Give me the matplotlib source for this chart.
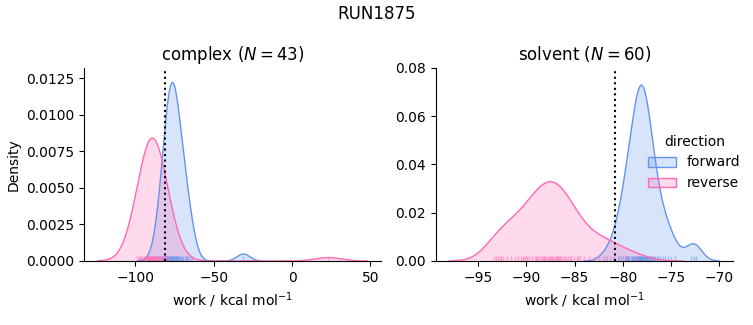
import numpy as np
import matplotlib
matplotlib.use('Agg')
import matplotlib.pyplot as plt
from matplotlib.patches import Patch
import matplotlib.transforms as mtransforms

run_name = 'RUN1875'
phases = ['complex', 'solvent']
directions = ['forward', 'reverse']
colors = {'forward': '#6495ED', 'reverse': '#FF69B4'}

# work values (kcal/mol)
complex_forward = [-86.2, -84.5, -83.1, -82.4, -81.7, -81.0, -80.3, -79.8, -79.2, -78.7,
                   -78.3, -77.9, -77.5, -77.1, -76.8, -76.4, -76.0, -75.6, -75.2, -74.8,
                   -74.3, -73.9, -73.4, -73.0, -72.5, -72.0, -71.4, -70.8, -70.1, -69.4,
                   -68.6, -67.7, -66.5, -65.2, -63.8, -79.5, -78.0, -76.6, -75.0, -74.0,
                   -80.7, -67.2, -31.0]
complex_reverse = [-99.0, -97.5, -96.3, -95.4, -94.6, -93.9, -93.3, -92.7, -92.2, -91.7,
                   -91.2, -90.8, -90.4, -90.0, -89.6, -89.2, -88.8, -88.4, -88.0, -87.6,
                   -87.1, -86.6, -86.1, -85.5, -84.8, -84.0, -83.1, -82.0, -80.5, -78.5,
                   -91.5, -90.2, -89.0, -87.8, -93.0, -82.8, -86.9, -85.0, -92.0, -97.0,
                   -84.4, -81.2, 23.0]
solvent_forward = [-81.6, -80.9, -80.4, -80.0, -79.7, -79.5, -79.3, -79.1, -78.9, -78.8,
                   -78.7, -78.6, -78.5, -78.4, -78.3, -78.2, -78.1, -78.0, -77.9, -77.8,
                   -77.7, -77.6, -77.5, -77.4, -77.3, -77.2, -77.0, -76.8, -76.6, -76.4,
                   -76.1, -75.8, -79.8, -79.0, -78.45, -78.15, -77.85, -77.55, -78.6, -75.6,
                   -77.7, -77.1, -79.4, -78.9, -78.25, -77.95, -76.9, -76.3, -80.2, -79.6,
                   -78.35, -78.05, -77.45, -77.25, -75.3, -75.0, -74.6, -72.9, -72.6, -72.4]
solvent_reverse = [-93.4, -93.0, -92.7, -92.4, -92.0, -91.6, -91.2, -90.9, -90.6, -90.3,
                   -90.0, -89.7, -89.4, -89.1, -88.8, -88.6, -88.4, -88.2, -88.0, -87.8,
                   -87.6, -87.4, -87.2, -87.0, -86.8, -86.6, -86.4, -86.2, -86.0, -85.7,
                   -85.4, -85.1, -84.8, -84.4, -84.0, -83.5, -83.0, -82.5, -82.0, -81.3,
                   -80.5, -79.6, -78.4, -89.9, -89.0, -88.3, -87.7, -87.3, -86.9, -86.5,
                   -88.9, -93.2, -86.7, -85.9, -90.4, -88.1, -81.8, -85.5, -92.6, -84.6]

# free energy estimate (dotted line)
complex_dg = -80.8
solvent_dg = -80.75

works = {
    'complex': {'forward': complex_forward, 'reverse': complex_reverse},
    'solvent': {'forward': solvent_forward, 'reverse': solvent_reverse},
}
dgs = {'complex': complex_dg, 'solvent': solvent_dg}
ylims = {'complex': 0.0132, 'solvent': 0.08}

n_total = sum(len(works[p][d]) for p in phases for d in directions)


def kde(x, cut=3, gridsize=200):
    # gaussian kde, scott's rule (same as seaborn's default)
    x = np.asarray(x, dtype=float)
    bw = x.std(ddof=1) * len(x) ** (-1 / 5)
    grid = np.linspace(x.min() - cut * bw, x.max() + cut * bw, gridsize)
    z = (grid[:, None] - x[None, :]) / bw
    dens = np.exp(-0.5 * z ** 2).sum(axis=1) / (len(x) * bw * np.sqrt(2 * np.pi))
    return grid, dens


fig, axes = plt.subplots(1, 2, figsize=(7.53, 3.25), dpi=100)
fig.subplots_adjust(left=0.1116, right=0.973, bottom=0.197, top=0.791, wspace=0.185)

for ax, phase in zip(axes, phases):
    n = len(works[phase]['forward'])
    for d in directions:
        x = works[phase][d]
        grid, dens = kde(x)
        dens = dens * len(x) / n_total
        ax.fill_between(grid, 0, dens, facecolor=colors[d], alpha=0.25, linewidth=0)
        ax.plot(grid, dens, color=colors[d], lw=1)
        trans = mtransforms.blended_transform_factory(ax.transData, ax.transAxes)
        ax.vlines(x, 0, 0.025, transform=trans, color=colors[d], alpha=0.5, lw=1)
    ax.axvline(dgs[phase], color='k', ls=':', lw=1.5)
    ax.set_ylim(0, ylims[phase])
    ax.set_title(f'{phase} ($N={n}$)', fontsize=12)
    ax.set_xlabel('work / kcal mol$^{-1}$')
    ax.spines['top'].set_visible(False)
    ax.spines['right'].set_visible(False)

axes[0].set_ylabel('Density')
axes[0].set_yticks([0, 0.0025, 0.005, 0.0075, 0.01, 0.0125])
axes[0].set_xticks([-100, -50, 0, 50])
axes[1].set_yticks([0, 0.02, 0.04, 0.06, 0.08])
axes[1].set_xticks([-95, -90, -85, -80, -75, -70])

handles = [Patch(facecolor=matplotlib.colors.to_rgba(colors[d], 0.25), edgecolor=colors[d], lw=1)
           for d in directions]
fig.legend(handles, directions, title='direction', loc='center',
           bbox_to_anchor=(0.922, 0.50), frameon=False, fontsize=10, title_fontsize=10)

fig.suptitle(run_name, fontsize=12, y=0.985)

plt.savefig('out.png')
